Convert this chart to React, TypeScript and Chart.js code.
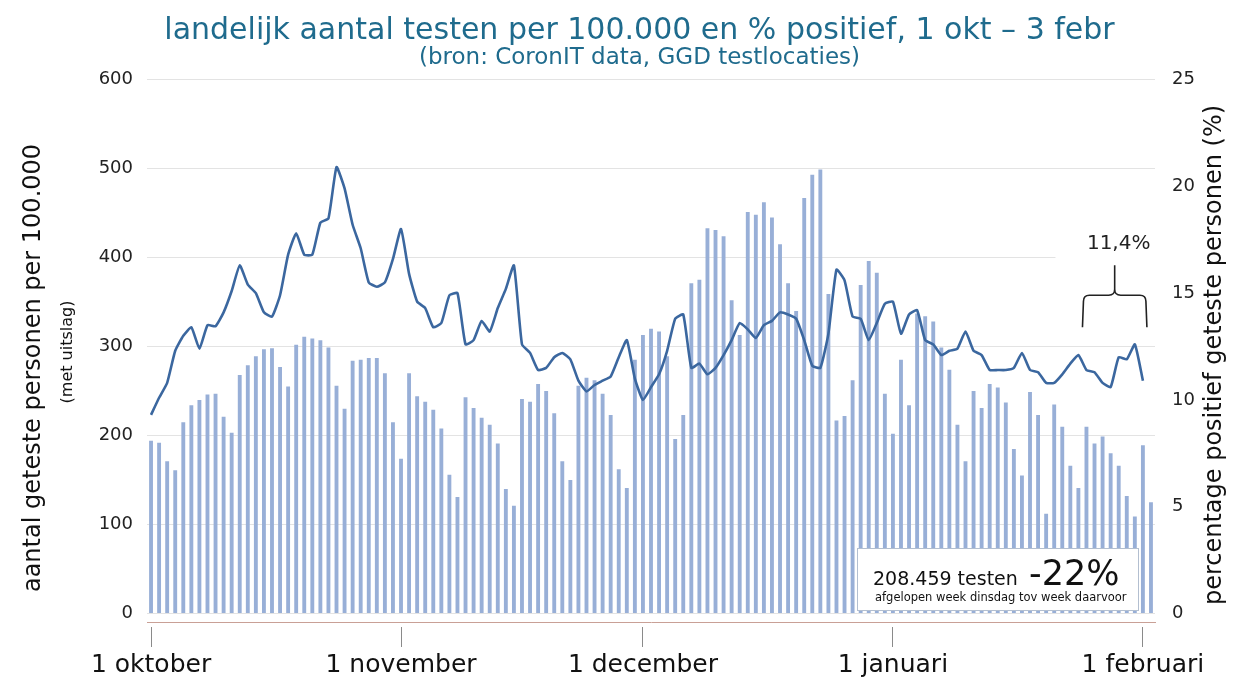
import React, { useEffect, useRef } from 'react';
import { Chart, registerables } from 'chart.js';

Chart.register(...registerables);

// ---- data ----
const monthNames = ['okt', 'nov', 'dec', 'jan', 'feb'];

// tests per 100.000 (left axis)
const octTests = [194, 192, 171, 161, 215, 234, 240, 246, 247, 221, 203, 268, 279, 289, 297, 298, 277, 255, 302, 311, 309, 307, 299, 256, 230, 284, 285, 287, 287, 270, 215];
const novTests = [174, 270, 244, 238, 229, 208, 156, 131, 243, 231, 220, 212, 191, 140, 121, 241, 238, 258, 250, 225, 171, 150, 256, 265, 262, 247, 223, 162, 141, 285];
const decTests = [313, 320, 317, 289, 196, 223, 371, 375, 433, 431, 424, 352, 313, 451, 448, 462, 445, 415, 371, 340, 467, 493, 499, 359, 217, 222, 262, 369, 396, 383, 247];
const janTests = [202, 285, 234, 337, 334, 328, 299, 274, 212, 171, 250, 231, 258, 254, 237, 185, 155, 249, 223, 112, 235, 210, 166, 141, 210, 191, 199, 180, 166, 132, 109];
const febTests = [189, 125];

// % positive (right axis)
const octPct = [9.3, 10.1, 10.8, 12.3, 13.0, 13.4, 12.4, 13.5, 13.45, 14.1, 15.1, 16.3, 15.4, 15.0, 14.1, 13.9, 14.9, 16.8, 17.8, 16.8, 16.8, 18.3, 18.5, 20.9, 19.9, 18.2, 17.1, 15.5, 15.3, 15.5, 16.6];
const novPct = [18.0, 15.9, 14.6, 14.3, 13.4, 13.6, 14.9, 15.0, 12.6, 12.8, 13.7, 13.2, 14.3, 15.2, 16.3, 12.6, 12.2, 11.4, 11.5, 12.0, 12.2, 11.9, 10.9, 10.4, 10.7, 10.9, 11.1, 12.0, 12.8, 11.0];
const decPct = [10.0, 10.6, 11.2, 12.3, 13.8, 14.0, 11.5, 11.7, 11.2, 11.5, 12.1, 12.8, 13.6, 13.3, 12.9, 13.5, 13.7, 14.1, 14.0, 13.8, 12.8, 11.6, 11.5, 13.1, 16.1, 15.6, 13.9, 13.8, 12.8, 13.6, 14.5];
const janPct = [14.6, 13.1, 14.0, 14.2, 12.8, 12.6, 12.1, 12.3, 12.4, 13.2, 12.3, 12.1, 11.4, 11.4, 11.4, 11.5, 12.2, 11.4, 11.3, 10.8, 10.8, 11.2, 11.7, 12.1, 11.4, 11.3, 10.8, 10.6, 12.0, 11.9, 12.6];
const febPct: (number | null)[] = [10.9, null];

const leftTicks = [0, 100, 200, 300, 400, 500, 600];
const rightTicks = [0, 5, 10, 15, 20, 25];
const monthTickLabels = ['1 oktober', '1 november', '1 december', '1 januari', '1 februari'];

const titleText = 'landelijk aantal testen per 100.000 en % positief, 1 okt \u2013 3 febr';
const subtitleText = '(bron: CoronIT data, GGD testlocaties)';
const leftTitle = 'aantal geteste personen per 100.000';
const leftSubTitle = '(met uitslag)';
const rightTitle = 'percentage positief geteste personen (%)';
const lastWeekPct = '11,4%';
const weekTests = '208.459 testen';
const weekChange = '-22%';
const weekNote = 'afgelopen week dinsdag tov week daarvoor';

// ---- derived ----
const testMonths = [octTests, novTests, decTests, janTests, febTests];
const pctMonths = [octPct, novPct, decPct, janPct, febPct];
const testsPer100k = testMonths.flat();
const pctPositive = pctMonths.flat();
const categories: string[] = [];
const monthStartIdx: number[] = [];
testMonths.forEach((m, mi) => {
  m.forEach((_, d) => {
    if (d === 0) monthStartIdx.push(categories.length);
    categories.push(`${d + 1} ${monthNames[mi]}`);
  });
});

const FONT = "'DejaVu Sans', Verdana, sans-serif";
const TEAL = '#1f6b8d';
const BAR = '#98afd7';
const LINE = '#3b679f';
const LEFT_MIN = -9.5;
const LEFT_MAX = 600;
const RIGHT_MAX = 25;

const decorPlugin = {
  id: 'decor',
  beforeDatasetsDraw(chart: any) {
    const { ctx, chartArea } = chart;
    const x = chart.scales.x;
    const y1 = chart.scales.y1;
    const xL = x.getPixelForValue(116) - 3;
    const top = y1.getPixelForValue(17.9);
    const bottom = y1.getPixelForValue(13.0);
    ctx.save();
    ctx.fillStyle = '#ffffff';
    ctx.fillRect(xL - 28, top, chartArea.right + 3 - (xL - 28), bottom - top);
    ctx.restore();
  },
  afterDatasetsDraw(chart: any) {
    const { ctx, chartArea } = chart;
    const x = chart.scales.x;
    const y1 = chart.scales.y1;
    ctx.save();
    // brace over last week
    const xL = x.getPixelForValue(116) - 3;
    const xR = x.getPixelForValue(123) + 3;
    const xM = (xL + xR) / 2;
    const yB = y1.getPixelForValue(13.4);
    const yM = y1.getPixelForValue(14.9);
    const yT = y1.getPixelForValue(16.3);
    const r = 6;
    ctx.strokeStyle = '#222';
    ctx.lineWidth = 1.6;
    ctx.beginPath();
    ctx.moveTo(xL - 1, yB);
    ctx.lineTo(xL, yM + r);
    ctx.quadraticCurveTo(xL, yM, xL + r, yM);
    ctx.lineTo(xM - r, yM);
    ctx.quadraticCurveTo(xM, yM, xM, yM - r);
    ctx.lineTo(xM, yT);
    ctx.moveTo(xM, yM - r);
    ctx.quadraticCurveTo(xM, yM, xM + r, yM);
    ctx.lineTo(xR - r, yM);
    ctx.quadraticCurveTo(xR, yM, xR, yM + r);
    ctx.lineTo(xR + 1, yB);
    ctx.stroke();
    ctx.fillStyle = '#222';
    ctx.font = `20px ${FONT}`;
    ctx.textAlign = 'center';
    ctx.textBaseline = 'middle';
    ctx.fillText(lastWeekPct, xM + 4, y1.getPixelForValue(17.3));

    // info box
    const bw = 281;
    const bh = 62;
    const bx = chartArea.right - 17 - bw;
    const by = chartArea.bottom - 12 - bh;
    ctx.fillStyle = '#ffffff';
    ctx.fillRect(bx, by, bw, bh);
    ctx.strokeStyle = '#b3bfd0';
    ctx.lineWidth = 1;
    ctx.strokeRect(bx + 0.5, by + 0.5, bw, bh);
    ctx.fillStyle = '#111';
    ctx.textAlign = 'left';
    ctx.textBaseline = 'alphabetic';
    ctx.font = `19px ${FONT}`;
    ctx.fillText(weekTests, bx + 16, by + 37);
    ctx.font = `35px ${FONT}`;
    ctx.fillText(weekChange, bx + 172, by + 37);
    ctx.font = `11.5px ${FONT}`;
    ctx.fillText(weekNote, bx + 18, by + 53);
    ctx.restore();
  },
  afterDraw(chart: any) {
    const { ctx } = chart;
    ctx.save();
    ctx.fillStyle = '#111';
    ctx.textAlign = 'center';
    ctx.textBaseline = 'middle';
    ctx.save();
    ctx.translate(34, 368);
    ctx.rotate(-Math.PI / 2);
    ctx.font = `24px ${FONT}`;
    ctx.fillText(leftTitle, 0, 0);
    ctx.restore();
    ctx.save();
    ctx.translate(68, 352);
    ctx.rotate(-Math.PI / 2);
    ctx.font = `16px ${FONT}`;
    ctx.fillText(leftSubTitle, 0, 0);
    ctx.restore();
    ctx.save();
    ctx.translate(1215, 355);
    ctx.rotate(-Math.PI / 2);
    ctx.font = `24px ${FONT}`;
    ctx.fillText(rightTitle, 0, 0);
    ctx.restore();
    ctx.restore();
  },
};

export default function App() {
  const canvasRef = useRef<HTMLCanvasElement | null>(null);

  useEffect(() => {
    if (!canvasRef.current) return;
    Chart.defaults.font.family = FONT;
    const chart = new Chart(canvasRef.current, {
      data: {
        labels: categories,
        datasets: [
          {
            type: 'line',
            label: '% positief',
            data: pctPositive,
            yAxisID: 'y1',
            borderColor: LINE,
            borderWidth: 2.6,
            pointRadius: 0,
            tension: 0.15,
            order: 0,
          } as any,
          {
            type: 'bar',
            label: 'testen per 100.000',
            data: testsPer100k,
            yAxisID: 'y',
            backgroundColor: BAR,
            categoryPercentage: 1,
            barPercentage: 0.48,
            order: 1,
          } as any,
        ],
      },
      options: {
        responsive: false,
        animation: false,
        devicePixelRatio: 1,
        layout: { padding: { left: 46, right: 0, top: 0, bottom: 0 } },
        plugins: {
          legend: { display: false },
          tooltip: { enabled: false },
          title: {
            display: true,
            text: titleText,
            color: TEAL,
            font: { size: 30, weight: 'normal', family: FONT, lineHeight: 1.0 },
            padding: { top: 16, bottom: 0 },
          },
          subtitle: {
            display: true,
            text: subtitleText,
            color: TEAL,
            font: { size: 23, weight: 'normal', family: FONT, lineHeight: 1.0 },
            padding: { top: 0.5, bottom: 10 },
          },
        },
        scales: {
          x: {
            type: 'category',
            offset: true,
            afterBuildTicks: (s: any) => {
              s.ticks = s.ticks.filter((t: any) => monthStartIdx.includes(t.value));
            },
            afterFit: (s: any) => {
              s.height = 58;
            },
            ticks: {
              autoSkip: false,
              maxRotation: 0,
              minRotation: 0,
              padding: 3,
              color: '#111',
              font: { size: 25 },
              callback: (v: any) => monthTickLabels[monthStartIdx.indexOf(Number(v))],
            },
            grid: {
              offset: false,
              drawOnChartArea: false,
              drawTicks: true,
              tickLength: 25,
              tickColor: '#8a8a8a',
              tickWidth: 1,
              tickBorderDash: [0, 4, 21, 100],
            },
            border: { display: true, color: '#c9a096', dash: [4, 3], width: 1 },
          },
          y: {
            type: 'linear',
            position: 'left',
            min: LEFT_MIN,
            max: LEFT_MAX,
            afterBuildTicks: (s: any) => {
              s.ticks = leftTicks.map((v) => ({ value: v }));
            },
            afterFit: (s: any) => {
              s.width = 101;
            },
            ticks: { padding: 14, color: '#222', font: { size: 18 } },
            grid: { color: '#e3e3e3', lineWidth: 1, drawTicks: false },
            border: { display: false },
          },
          y1: {
            type: 'linear',
            position: 'right',
            min: (LEFT_MIN * RIGHT_MAX) / LEFT_MAX,
            max: RIGHT_MAX,
            afterBuildTicks: (s: any) => {
              s.ticks = rightTicks.map((v) => ({ value: v }));
            },
            afterFit: (s: any) => {
              s.width = 78;
            },
            ticks: { padding: 17, color: '#222', font: { size: 18 } },
            grid: { drawOnChartArea: false, drawTicks: false },
            border: { display: false },
          },
        },
      } as any,
      plugins: [decorPlugin],
    });
    return () => chart.destroy();
  }, []);

  return (
    <div style={{ position: 'fixed', left: 0, top: 0, width: 1233, height: 680, background: '#fff' }}>
      <canvas ref={canvasRef} width={1233} height={680} style={{ display: 'block' }} />
    </div>
  );
}
